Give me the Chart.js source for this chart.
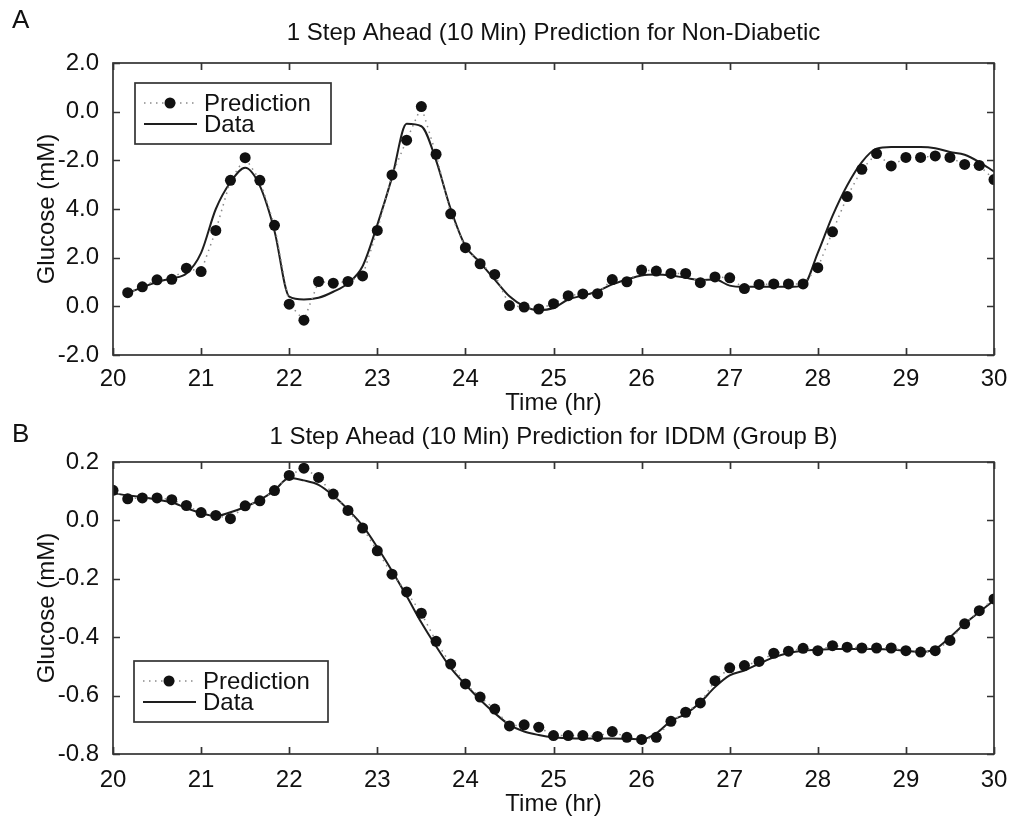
<!DOCTYPE html>
<html>
<head>
<meta charset="utf-8">
<script src="https://cdn.jsdelivr.net/npm/chart.js@4.4.1/dist/chart.umd.min.js"></script>
<style>
  body { margin: 0; background: #fff; }
  canvas { position: absolute; left: 0; }
  #chartA { top: 0; }
  #chartB { top: 420px; }
</style>
</head>
<body>
<canvas id="chartA" width="1018" height="420"></canvas>
<canvas id="chartB" width="1018" height="399"></canvas>
<script>
// time axis, 10 min steps (hours)
const timeHr = [20.000, 20.167, 20.333, 20.500, 20.667, 20.833,
  21.000, 21.167, 21.333, 21.500, 21.667, 21.833,
  22.000, 22.167, 22.333, 22.500, 22.667, 22.833,
  23.000, 23.167, 23.333, 23.500, 23.667, 23.833,
  24.000, 24.167, 24.333, 24.500, 24.667, 24.833,
  25.000, 25.167, 25.333, 25.500, 25.667, 25.833,
  26.000, 26.167, 26.333, 26.500, 26.667, 26.833,
  27.000, 27.167, 27.333, 27.500, 27.667, 27.833,
  28.000, 28.167, 28.333, 28.500, 28.667, 28.833,
  29.000, 29.167, 29.333, 29.500, 29.667, 29.833,
  30.000];

// Panel A - Non-Diabetic (starts at 20:10)
const predA = [0.56, 0.80, 1.09, 1.11, 1.57, 1.43,
  3.12, 5.18, 6.11, 5.18, 3.33, 0.09,
  -0.57, 1.02, 0.95, 1.02, 1.25, 3.12,
  5.40, 6.83, 8.21, 6.25, 3.80, 2.41,
  1.75, 1.31, 0.03, -0.03, -0.11, 0.11,
  0.44, 0.51, 0.52, 1.10, 1.01, 1.49,
  1.45, 1.35, 1.35, 0.97, 1.21, 1.17,
  0.73, 0.90, 0.92, 0.92, 0.92, 1.59,
  3.06, 4.51, 5.63, 6.28, 5.77, 6.12,
  6.12, 6.18, 6.12, 5.83, 5.79, 5.21];
const dataA = [0.55, 0.78, 1.00, 1.15, 1.35, 2.20,
  4.00, 5.10, 5.70, 4.95, 3.10, 0.40,
  0.28, 0.35, 0.60, 0.95, 1.65, 3.35,
  5.30, 7.50, 7.40, 6.00, 4.00, 2.48,
  1.80, 1.10, 0.41, 0.00, -0.16, -0.07,
  0.28, 0.44, 0.62, 0.90, 1.10, 1.27,
  1.31, 1.27, 1.17, 1.08, 1.10, 0.85,
  0.80, 0.80, 0.80, 0.80, 0.85, 2.20,
  3.72, 4.97, 5.93, 6.48, 6.55, 6.55,
  6.55, 6.50, 6.34, 6.23, 5.93, 5.54];
// tick labels as printed (bottom to top)
const yLabelsA = ['-2.0', '0.0', '2.0', '4.0', '-2.0', '0.0', '2.0'];

// Panel B - IDDM (Group B)
const predB = [0.103, 0.074, 0.077, 0.077, 0.071, 0.051,
  0.027, 0.017, 0.006, 0.050, 0.067, 0.102,
  0.154, 0.179, 0.147, 0.090, 0.034, -0.026,
  -0.104, -0.184, -0.245, -0.318, -0.414, -0.492,
  -0.560, -0.605, -0.646, -0.704, -0.700, -0.708,
  -0.737, -0.737, -0.737, -0.740, -0.723, -0.743,
  -0.750, -0.743, -0.688, -0.657, -0.625, -0.549,
  -0.505, -0.497, -0.483, -0.455, -0.448, -0.438,
  -0.446, -0.429, -0.434, -0.437, -0.437, -0.437,
  -0.446, -0.451, -0.446, -0.411, -0.354, -0.309,
  -0.269];
const dataB = [0.094, 0.085, 0.080, 0.071, 0.062, 0.042,
  0.025, 0.015, 0.028, 0.046, 0.070, 0.103,
  0.145, 0.137, 0.122, 0.085, 0.037, -0.018,
  -0.092, -0.173, -0.259, -0.350, -0.431, -0.505,
  -0.562, -0.614, -0.660, -0.700, -0.723, -0.735,
  -0.743, -0.746, -0.747, -0.747, -0.747, -0.748,
  -0.750, -0.729, -0.687, -0.663, -0.623, -0.571,
  -0.531, -0.514, -0.491, -0.469, -0.454, -0.446,
  -0.443, -0.440, -0.440, -0.440, -0.440, -0.442,
  -0.447, -0.451, -0.440, -0.400, -0.354, -0.314,
  -0.274];
const yLabelsB = ['-0.8', '-0.6', '-0.4', '-0.2', '0.0', '0.2'];

const FONT = '"Liberation Sans", Arial, Helvetica, sans-serif';
const INK = '#111';
const FS = 24;

function toPoints(xs, ys) {
  return ys.map((v, i) => ({ x: xs[i], y: v }));
}

// frame with inward ticks, panel title, letter and legend box
const framePlugin = {
  id: 'frame',
  afterDraw(chart, args, opts) {
    const { ctx, chartArea: a, scales } = chart;
    ctx.save();
    ctx.strokeStyle = '#333';
    ctx.lineWidth = 1.7;
    ctx.strokeRect(a.left, a.top, a.right - a.left, a.bottom - a.top);
    const tl = 7;
    ctx.beginPath();
    scales.x.ticks.forEach(t => {
      const px = Math.round(scales.x.getPixelForValue(t.value)) + 0.5;
      ctx.moveTo(px, a.bottom); ctx.lineTo(px, a.bottom - tl);
      ctx.moveTo(px, a.top); ctx.lineTo(px, a.top + tl);
    });
    scales.y.ticks.forEach(t => {
      const py = Math.round(scales.y.getPixelForValue(t.value)) + 0.5;
      ctx.moveTo(a.left, py); ctx.lineTo(a.left + tl, py);
      ctx.moveTo(a.right, py); ctx.lineTo(a.right - tl, py);
    });
    ctx.stroke();

    // title + panel letter
    ctx.fillStyle = INK;
    ctx.font = FS + 'px ' + FONT;
    ctx.textAlign = 'center';
    ctx.textBaseline = 'middle';
    ctx.fillText(opts.title, (a.left + a.right) / 2, opts.titleY);
    ctx.font = '26px ' + FONT;
    ctx.textAlign = 'left';
    ctx.fillText(opts.letter, opts.letterX, opts.letterY);

    // legend
    const lg = opts.legend;
    ctx.fillStyle = '#fff';
    ctx.fillRect(lg.x, lg.y, lg.w, lg.h);
    ctx.strokeStyle = '#333';
    ctx.lineWidth = 1.7;
    ctx.strokeRect(lg.x, lg.y, lg.w, lg.h);
    const ds = chart.data.datasets;
    ds.forEach((d, i) => {
      const ry = lg.y + 20 + i * 21;
      ctx.save();
      ctx.strokeStyle = d.borderColor;
      ctx.lineWidth = d.borderWidth;
      ctx.setLineDash(d.borderDash || []);
      ctx.beginPath();
      ctx.moveTo(lg.x + 9, ry);
      ctx.lineTo(lg.x + 62, ry);
      ctx.stroke();
      ctx.restore();
      if (d.pointRadius > 0) {
        ctx.fillStyle = d.pointBackgroundColor;
        ctx.beginPath();
        ctx.arc(lg.x + 35, ry, d.pointRadius, 0, Math.PI * 2);
        ctx.fill();
      }
      ctx.fillStyle = INK;
      ctx.font = FS + 'px ' + FONT;
      ctx.textAlign = 'left';
      ctx.textBaseline = 'middle';
      ctx.fillText(d.label, lg.x + 69, ry + 1);
    });
    ctx.restore();
  }
};

function makePanel(id, xs, pred, data, yMin, yMax, yStep, yLabels, cfg) {
  return new Chart(document.getElementById(id), {
    type: 'line',
    data: {
      datasets: [{
        label: 'Prediction',
        data: toPoints(xs.slice(xs.length - pred.length), pred),
        borderColor: '#8a8a8a',
        borderWidth: 1.5,
        borderDash: [1.5, 4.5],
        pointRadius: 5.5,
        pointBackgroundColor: '#111',
        pointBorderWidth: 0,
        order: 1
      }, {
        label: 'Data',
        data: toPoints(xs.slice(xs.length - data.length), data),
        borderColor: '#1e1e1e',
        borderWidth: 2,
        pointRadius: 0,
        cubicInterpolationMode: 'monotone',
        order: 2
      }]
    },
    options: {
      responsive: false,
      animation: false,
      devicePixelRatio: 1,
      layout: { padding: { left: 0, right: 24, top: cfg.top, bottom: 0 } },
      plugins: {
        legend: { display: false },
        tooltip: { enabled: false },
        frame: cfg.frame
      },
      scales: {
        x: {
          type: 'linear',
          min: 20, max: 30,
          ticks: { stepSize: 1, color: INK, font: { family: FONT, size: FS }, padding: cfg.xPad, maxRotation: 0 },
          grid: { display: false },
          border: { display: false },
          title: { display: true, text: 'Time (hr)', color: INK, font: { family: FONT, size: FS }, padding: { top: 0, bottom: cfg.xTitlePad } },
          afterFit: s => { s.height = cfg.xHeight; }
        },
        y: {
          min: yMin, max: yMax,
          ticks: {
            stepSize: yStep, color: INK, font: { family: FONT, size: FS }, padding: 6,
            callback: (v, i) => yLabels[i]
          },
          grid: { display: false },
          border: { display: false },
          title: { display: true, text: 'Glucose (mM)', color: INK, font: { family: FONT, size: FS }, padding: { top: 33, bottom: 0 } },
          afterFit: s => { s.width = 113; }
        }
      }
    },
    plugins: [framePlugin]
  });
}

makePanel('chartA', timeHr, predA, dataA, -2, 10, 2, yLabelsA, {
  top: 63, xPad: 2, xTitlePad: 2, xHeight: 65,
  frame: {
    title: '1 Step Ahead (10 Min) Prediction for Non-Diabetic', titleY: 33,
    letter: 'A', letterX: 12, letterY: 21,
    legend: { x: 135, y: 83, w: 196, h: 61 }
  }
});

makePanel('chartB', timeHr, predB, dataB, -0.8, 0.2, 0.2, yLabelsB, {
  top: 42, xPad: 4, xTitlePad: 0, xHeight: 65,
  frame: {
    title: '1 Step Ahead (10 Min) Prediction for IDDM (Group B)', titleY: 17,
    letter: 'B', letterX: 12, letterY: 15,
    legend: { x: 134, y: 241, w: 194, h: 61 }
  }
});
</script>
</body>
</html>
